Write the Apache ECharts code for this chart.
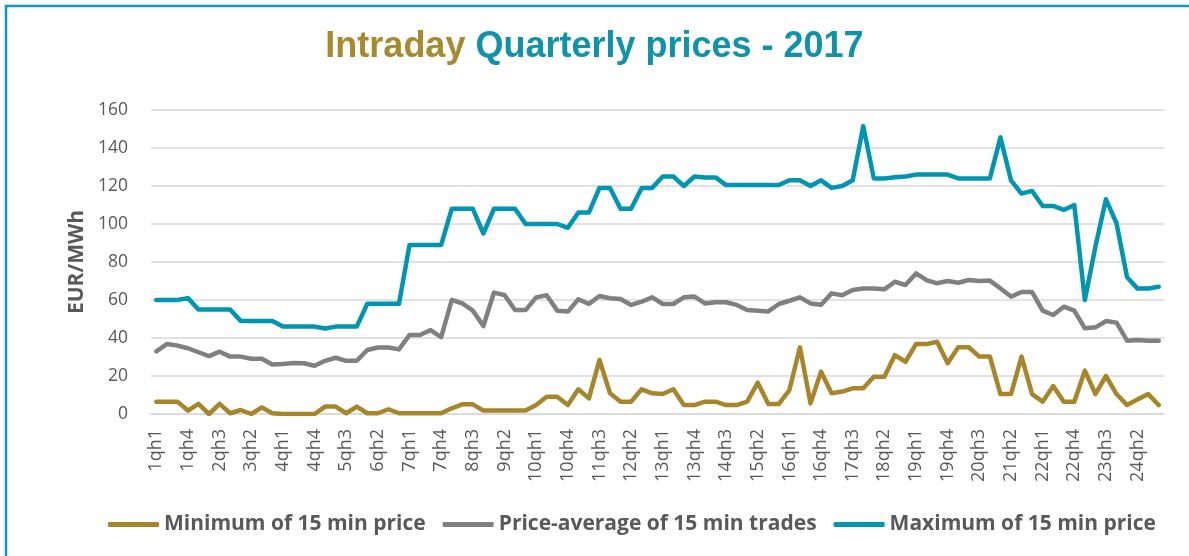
<!DOCTYPE html>
<html>
<head>
<meta charset="utf-8">
<script src="https://cdn.jsdelivr.net/npm/echarts@6/dist/echarts.min.js"></script>
<style>
  html, body { margin: 0; padding: 0; background: #fff; }
  #chart { width: 1189px; height: 556px; }
</style>
</head>
<body>
<div id="chart"></div>
<script>
// hour / quarter-hour categories 1qh1 ... 24qh4
var categories = [];
for (var h = 1; h <= 24; h++) {
  for (var q = 1; q <= 4; q++) categories.push(h + "qh" + q);
}

var yTicks = [0, 20, 40, 60, 80, 100, 120, 140, 160];

var minPrice = [
  6.5, 6.5, 6.5, 1.8, 5.3, 0, 5.3, 0.4, 2.1, 0, 3.5, 0.4,
  0, 0, 0, 0, 3.9, 3.9, 0.4, 3.9, 0.4, 0.4, 2.5, 0.4,
  0.4, 0.4, 0.4, 0.4, 3, 5.1, 5.1, 1.8, 1.8, 1.8, 1.8, 1.8,
  4.7, 9.1, 9.1, 4.7, 13, 8.2, 28.4, 10.9, 6.5, 6.5, 13, 10.9,
  10.5, 13, 4.7, 4.7, 6.5, 6.5, 4.7, 4.7, 6.5, 16.5, 5.3, 5.3,
  12.6, 35.1, 5.6, 22.3, 10.9, 11.8, 13.5, 13.5, 19.6, 19.6, 31, 27.5,
  36.8, 36.8, 38, 26.7, 35.1, 35.1, 30.2, 30.2, 10.5, 10.5, 30.2, 10.5,
  6.5, 14.7, 6.5, 6.5, 22.8, 10.5, 20, 10.5, 4.7, 7.7, 10.5, 4.7
];

var avgPrice = [
  33, 36.8, 36, 34.6, 32.5, 30.5, 32.8, 30.2, 30.2, 29.1, 29.1, 26.1,
  26.3, 26.8, 26.7, 25.4, 28, 29.6, 28, 28, 33.7, 35, 35, 34,
  41.6, 41.6, 44.2, 40.4, 60, 58.2, 54.4, 46.3, 63.9, 62.6, 54.7, 54.7,
  61.4, 62.5, 54.4, 53.9, 60.4, 57.9, 62.1, 60.9, 60.5, 57.4, 59.1, 61.4,
  57.9, 57.9, 61.4, 61.8, 58.2, 58.8, 58.8, 57.4, 54.7, 54.4, 54, 57.9,
  59.6, 61.4, 58.2, 57.5, 63.5, 62.5, 65.3, 66.1, 66, 65.6, 69.6, 67.9,
  74, 70.5, 68.8, 70, 69.1, 70.5, 70, 70.2, 66.1, 61.8, 64.2, 64.2,
  54.4, 52.1, 56.5, 54.4, 45.1, 45.6, 48.9, 48.1, 38.6, 38.9, 38.6, 38.6
];

var maxPrice = [
  60, 60, 60, 61, 55, 55, 55, 55, 49, 49, 49, 49,
  46, 46, 46, 46, 45, 46, 46, 46, 58, 58, 58, 58,
  89, 89, 89, 89, 108, 108, 108, 95, 108, 108, 108, 100,
  100, 100, 100, 98, 106, 106, 119, 119, 108, 108, 119, 119,
  125, 125, 120, 125, 124.5, 124.5, 120.5, 120.5, 120.5, 120.5, 120.5, 120.5,
  123, 123, 120, 123, 119, 120, 123, 151.5, 124, 124, 124.6, 125,
  126, 126, 126, 126, 124, 124, 124, 124, 145.6, 123, 116, 117.4,
  109.5, 109.5, 107.4, 110, 60, 88, 113, 100.4, 72, 66, 66, 67
];

var seriesNames = [
  "Minimum of 15 min price",
  "Price-average of 15 min trades",
  "Maximum of 15 min price"
];

var GOLD = "#A7852A";
var GREY = "#808080";
var TEAL = "#0096B1";
var TEXT = "#595959";

var chart = echarts.init(document.getElementById("chart"), null, { renderer: "canvas" });

function lineSeries(name, data, color) {
  return {
    name: name,
    type: "line",
    data: data,
    showSymbol: false,
    symbol: "none",
    lineStyle: { color: color, width: 4.5, join: "round", cap: "round" },
    itemStyle: { color: color },
    animation: false
  };
}

var option = {
  backgroundColor: "#fff",
  animation: false,
  graphic: [
    {
      type: "rect",
      shape: { x: 6, y: 6, width: 1400, height: 800 },
      style: { fill: "none", stroke: "#1399B9", lineWidth: 2.5 }
    }
  ],
  title: {
    left: "center",
    top: 24,
    text: "{a|Intraday }{b|Quarterly prices - 2017}",
    textStyle: {
      rich: {
        a: { color: "#A68A2E", fontSize: 36, fontWeight: "bold", fontFamily: "Liberation Sans" },
        b: { color: "#0E93AB", fontSize: 36, fontWeight: "bold", fontFamily: "Liberation Sans" }
      }
    }
  },
  grid: { left: 151, right: 25, top: 110, height: 304 },
  legend: {
    left: 103,
    top: 509,
    itemWidth: 51,
    itemHeight: 5,
    itemGap: 17,
    icon: "roundRect",
    textStyle: { color: TEXT, fontSize: 21, fontWeight: "bold", fontFamily: "Open Sans" },
    data: seriesNames
  },
  xAxis: {
    type: "category",
    data: categories,
    boundaryGap: true,
    axisLine: { show: true, lineStyle: { color: "#D9D9D9", width: 1.5 } },
    axisTick: { show: false },
    axisLabel: {
      interval: 2,
      rotate: 90,
      margin: 15,
      color: TEXT,
      fontSize: 18,
      fontFamily: "Open Sans"
    },
    splitLine: { show: false }
  },
  yAxis: {
    type: "value",
    min: yTicks[0],
    max: yTicks[yTicks.length - 1],
    interval: 20,
    name: "EUR/MWh",
    nameLocation: "middle",
    nameRotate: 90,
    nameGap: 62,
    nameTextStyle: { color: TEXT, fontSize: 21, fontWeight: "bold", fontFamily: "Open Sans" },
    axisLine: { show: false },
    axisTick: { show: false },
    axisLabel: { color: TEXT, fontSize: 17.5, margin: 23, fontFamily: "Open Sans" },
    splitLine: { lineStyle: { color: "#D9D9D9", width: 1.5 } }
  },
  series: [
    lineSeries(seriesNames[0], minPrice, GOLD),
    lineSeries(seriesNames[1], avgPrice, GREY),
    lineSeries(seriesNames[2], maxPrice, TEAL)
  ]
};

chart.setOption(option);
</script>
</body>
</html>
